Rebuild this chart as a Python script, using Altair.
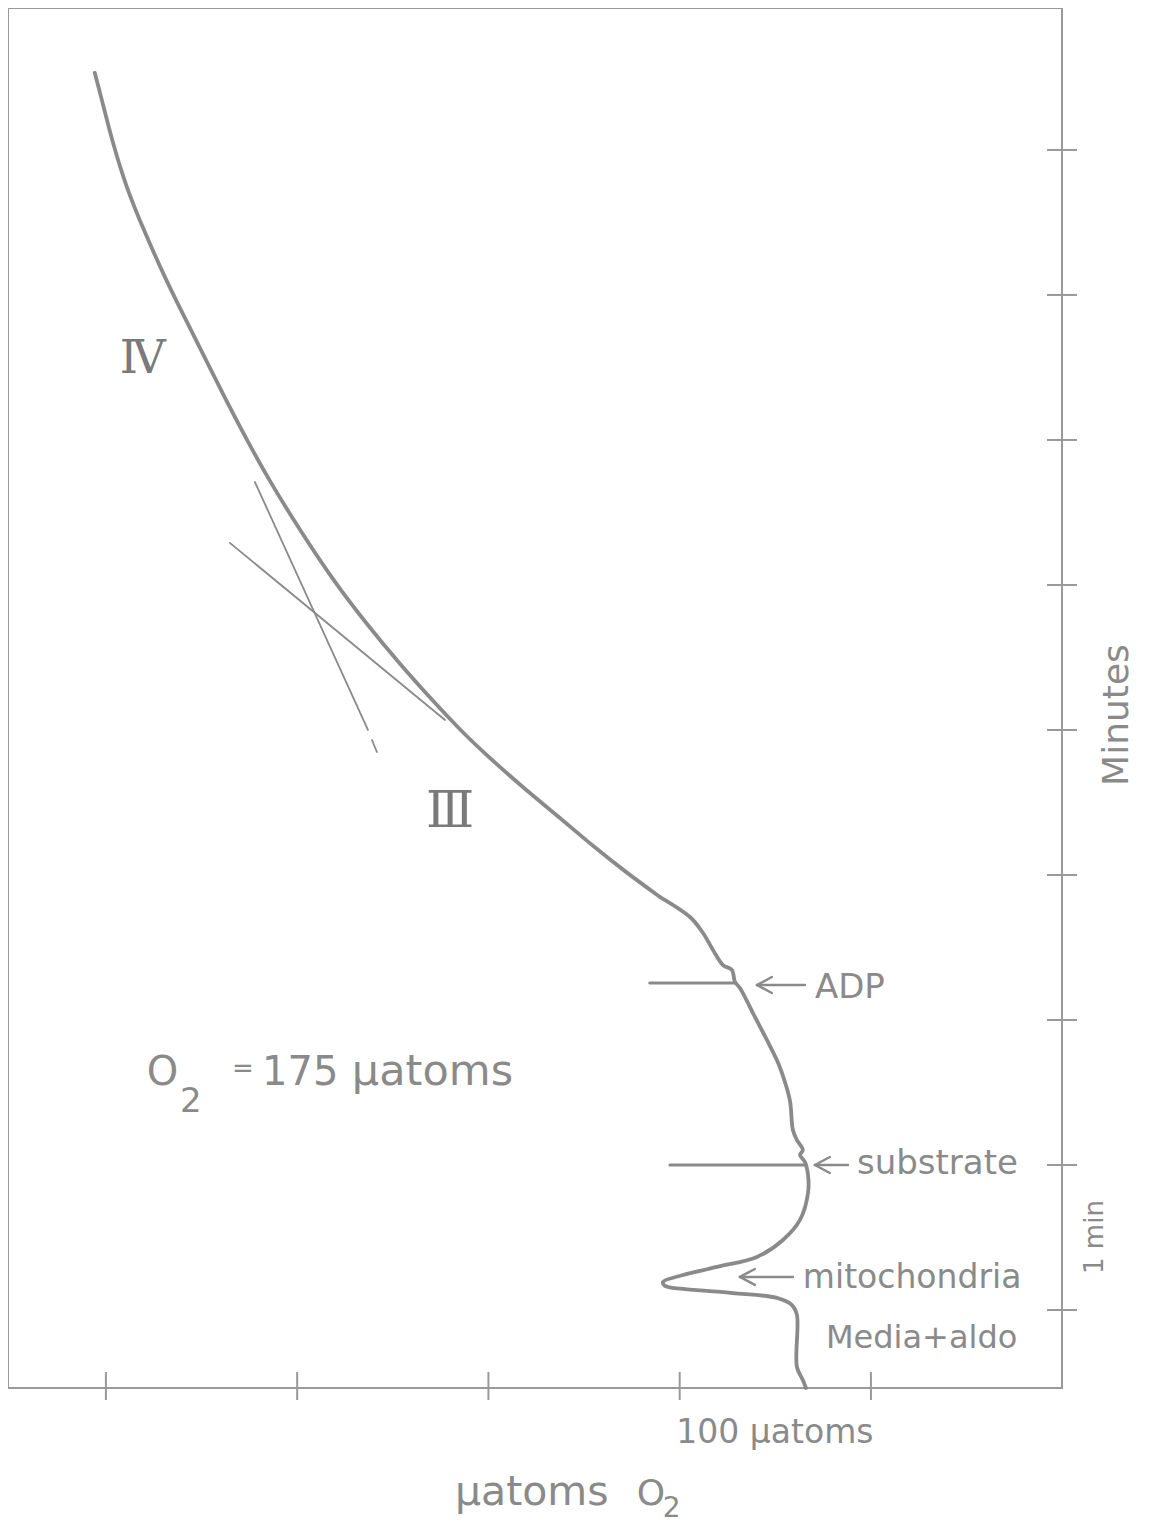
import altair as alt
import pandas as pd

# ---------------- data (x: tick units along µatoms O2 axis, t: minutes) ----------------
curve_x = [-0.058, -0.021, 0.031, 0.105, 0.204, 0.314, 0.418, 0.523, 0.627, 0.737,
           0.852, 1.014, 1.187, 1.359, 1.532, 1.705, 1.867, 2.018, 2.196, 2.369,
           2.552, 2.724, 2.897, 3.054, 3.122, 3.174, 3.226, 3.273, 3.289, 3.315,
           3.383, 3.456, 3.508, 3.535, 3.576, 3.592, 3.613, 3.644, 3.629, 3.655,
           3.671, 3.671, 3.629, 3.540, 3.404, 3.195, 3.017, 2.912, 2.923, 3.017,
           3.278, 3.508, 3.587, 3.613, 3.613, 3.644, 3.660]
curve_t = [8.531, 8.345, 8.069, 7.745, 7.428, 7.103, 6.828, 6.552, 6.276, 6.000,
           5.724, 5.379, 5.034, 4.738, 4.462, 4.207, 3.979, 3.793, 3.586, 3.400,
           3.193, 3.014, 2.848, 2.710, 2.600, 2.483, 2.379, 2.345, 2.262, 2.221,
           2.048, 1.862, 1.724, 1.634, 1.448, 1.241, 1.172, 1.103, 1.069, 1.021,
           0.931, 0.807, 0.621, 0.483, 0.366, 0.297, 0.241, 0.193, 0.166, 0.145,
           0.117, 0.083, 0.034, -0.034, -0.393, -0.483, -0.538]
SMOOTH_END = 22  # smooth upper trace up to this point, detailed trace after it

# straight segments: tangents (rates III and IV) and addition markers
seg_x1 = [0.779, 1.391, 0.648, 2.844, 2.949]
seg_t1 = [5.710, 3.931, 5.290, 2.255, 1.000]
seg_x2 = [1.370, 1.417, 1.773, 3.289, 3.655]
seg_t2 = [4.000, 3.848, 4.069, 2.255, 1.000]
seg_w = [1.8, 1.8, 1.8, 3.2, 3.2]

# arrows: tip, shaft end, head length, head half-height
arrow_tip_x = [3.404, 3.707, 3.315]
arrow_end_x = [3.655, 3.880, 3.592]
arrow_t = [2.241, 1.000, 0.228]
head_dx = 0.078
head_dt = 0.055

x_ticks = [0, 1, 2, 3, 4]
t_ticks = [0, 1, 2, 3, 4, 5, 6, 7, 8]

sans_labels = ["ADP", "substrate", "mitochondria", "Media+aldo", "O", "2", "=", "175",
               "µatoms", "µatoms", "O", "2"]
sans_x = [3.707, 3.927, 3.644, 3.765, 0.214, 0.387, 0.659, 0.816, 1.286, 1.825, 2.776, 2.912]
sans_t = [2.152, 0.938, 0.152, -0.262, 1.552, 1.366, 1.607, 1.552, 1.552, -1.345, -1.345, -1.430]
sans_size = [34, 34, 33, 32, 40, 34, 26, 40, 43, 41, 36, 28]

center_labels = ["100 µatoms"]
center_x = [3.498]
center_t = [-0.917]
center_size = [33]

rot_labels = ["Minutes", "1 min"]
rot_x = [5.286, 5.171]
rot_t = [4.103, 0.503]
rot_size = [36, 26]

roman_labels = ["Ⅳ", "Ⅲ"]
roman_x = [0.193, 1.799]
roman_t = [6.462, 3.331]
roman_size = [46, 50]

X_DOMAIN = [-0.512, 4.999]
T_DOMAIN = [-0.538, 8.979]
W, H = 1054, 1380
GRAY = "#8a8a8a"

# ---------------- helpers ----------------
xs = alt.Scale(domain=X_DOMAIN, nice=False, zero=False)
ys = alt.Scale(domain=T_DOMAIN, nice=False, zero=False)


def X(f):
    return alt.X(f, type="quantitative", scale=xs, axis=None)


def Y(f):
    return alt.Y(f, type="quantitative", scale=ys, axis=None)


curve = pd.DataFrame({"x": curve_x, "t": curve_t, "i": range(len(curve_x))})
upper = curve.iloc[:SMOOTH_END + 1]
lower = curve.iloc[SMOOTH_END:]
segs = pd.DataFrame({"x1": seg_x1, "t1": seg_t1, "x2": seg_x2, "t2": seg_t2, "w": seg_w})

arrow_rows = []
for tx, ex, at in zip(arrow_tip_x, arrow_end_x, arrow_t):
    arrow_rows.append({"x1": tx, "t1": at, "x2": ex, "t2": at})
    arrow_rows.append({"x1": tx, "t1": at, "x2": tx + head_dx, "t2": at + head_dt})
    arrow_rows.append({"x1": tx, "t1": at, "x2": tx + head_dx, "t2": at - head_dt})
arrows = pd.DataFrame(arrow_rows)

xt = pd.DataFrame({"x": x_ticks})
tt = pd.DataFrame({"t": t_ticks})

sans = pd.DataFrame({"x": sans_x, "t": sans_t, "label": sans_labels, "s": sans_size})
cen = pd.DataFrame({"x": center_x, "t": center_t, "label": center_labels, "s": center_size})
rot = pd.DataFrame({"x": rot_x, "t": rot_t, "label": rot_labels, "s": rot_size})
rom = pd.DataFrame({"x": roman_x, "t": roman_t, "label": roman_labels, "s": roman_size})

# ---------------- layers ----------------
line_style = dict(color=GRAY, strokeWidth=3.8, strokeCap="round", strokeJoin="round")
upper_layer = alt.Chart(upper).mark_line(interpolate="basis", **line_style).encode(
    x=X("x"), y=Y("t"), order=alt.Order("i:Q"))
lower_layer = alt.Chart(lower).mark_line(interpolate="catmull-rom", **line_style).encode(
    x=X("x"), y=Y("t"), order=alt.Order("i:Q"))

seg_layer = alt.Chart(segs).mark_rule(color=GRAY, strokeCap="round").encode(
    x=X("x1"), y=Y("t1"), x2="x2:Q", y2="t2:Q",
    strokeWidth=alt.StrokeWidth("w:Q", scale=None)
)

arrow_layer = alt.Chart(arrows).mark_rule(color=GRAY, strokeWidth=2.4, strokeCap="round").encode(
    x=X("x1"), y=Y("t1"), x2="x2:Q", y2="t2:Q"
)

xtick_layer = alt.Chart(xt).mark_rule(color="#999999", strokeWidth=2).encode(
    x=X("x"), y=alt.value(H - 16), y2=alt.value(H + 12)
)
ttick_layer = alt.Chart(tt).mark_rule(color="#999999", strokeWidth=2).encode(
    y=Y("t"), x=alt.value(W - 15), x2=alt.value(W + 15)
)

sans_layer = alt.Chart(sans).mark_text(
    font="DejaVu Sans", color=GRAY, align="left", baseline="alphabetic"
).encode(x=X("x"), y=Y("t"), text="label:N", size=alt.Size("s:Q", scale=None))

cen_layer = alt.Chart(cen).mark_text(
    font="DejaVu Sans", color=GRAY, align="center", baseline="alphabetic"
).encode(x=X("x"), y=Y("t"), text="label:N", size=alt.Size("s:Q", scale=None))

rot_layer = alt.Chart(rot).mark_text(
    font="DejaVu Sans", color=GRAY, align="center", baseline="middle", angle=270
).encode(x=X("x"), y=Y("t"), text="label:N", size=alt.Size("s:Q", scale=None))

rom_layer = alt.Chart(rom).mark_text(
    font="DejaVu Serif", color="#7a7a7a", align="center", baseline="alphabetic"
).encode(x=X("x"), y=Y("t"), text="label:N", size=alt.Size("s:Q", scale=None))

chart = alt.layer(
    seg_layer, arrow_layer, upper_layer, lower_layer, xtick_layer, ttick_layer,
    sans_layer, cen_layer, rot_layer, rom_layer
).properties(
    width=W, height=H, padding=0, background="white"
).configure_view(stroke="#9a9a9a", strokeWidth=2)

chart.save("out.html", embed_options={"renderer": "svg", "actions": False})
